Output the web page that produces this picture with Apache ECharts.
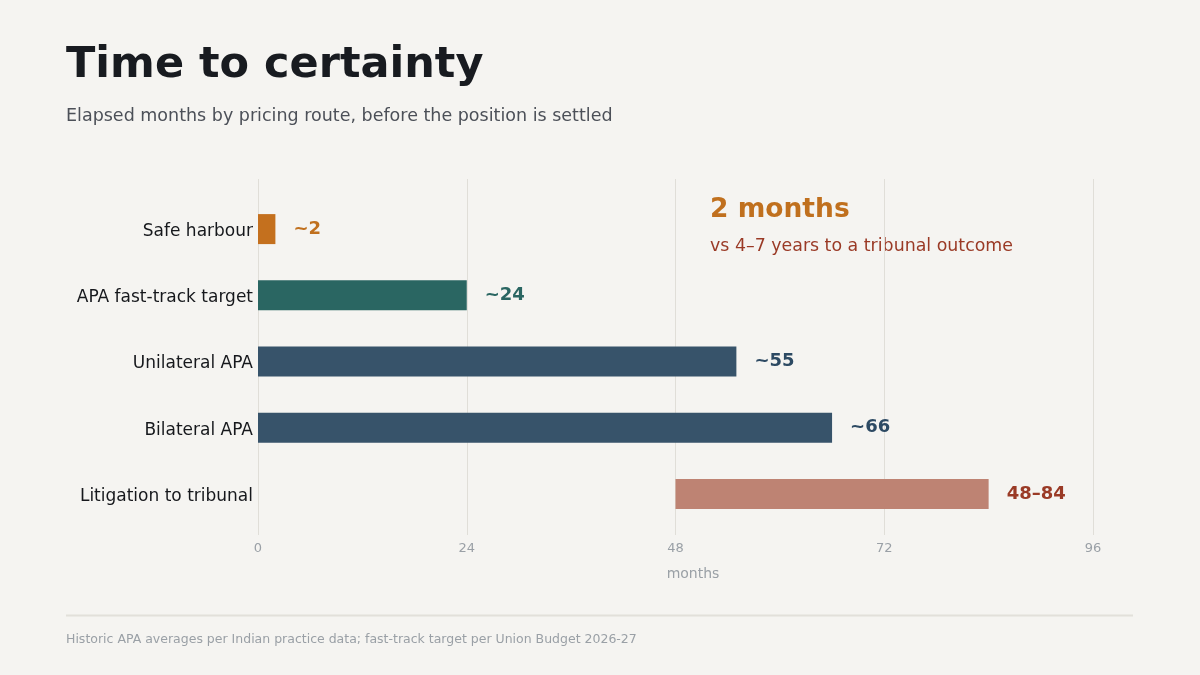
<!DOCTYPE html>
<html lang="en">
<head>
    <meta charset="UTF-8">
    <title>Time to certainty</title>
    <script src="https://cdn.jsdelivr.net/npm/echarts@6/dist/echarts.min.js"></script>
    <style>
        html, body { margin: 0; padding: 0; background: #f5f4f1; }
        #chart { width: 1200px; height: 675px; }
    </style>
</head>
<body>
<div id="chart"></div>
<script>
    // data
    var routes = ['Safe harbour', 'APA fast-track target', 'Unilateral APA', 'Bilateral APA', 'Litigation to tribunal'];
    var starts = [0, 0, 0, 0, 48];
    var ends = [2, 24, 55, 66, 84];
    var valueLabels = ['~2', '~24', '~55', '~66', '48\u201384'];
    var barColors = ['#c4701e', '#2a6662', '#37536a', '#37536a', '#be8373'];
    var labelColors = ['#c0701e', '#2a6662', '#2d4a63', '#2d4a63', '#9a3a26'];
    var xTicks = [0, 24, 48, 72, 96];

    var font = "'DejaVu Sans'";
    var chart = echarts.init(document.getElementById('chart'));

    var baseData = starts.map(function (s) { return s; });
    var lenData = ends.map(function (e, i) {
        return {
            value: e - starts[i],
            itemStyle: { color: barColors[i] },
            label: { formatter: valueLabels[i], color: labelColors[i] }
        };
    });

    var option = {
        backgroundColor: '#f5f4f1',
        animation: false,
        textStyle: { fontFamily: font },
        graphic: [
            { type: 'text', left: 66, top: 44, style: { text: 'Time to certainty', font: 'bold 43px "DejaVu Sans"', fill: '#181b20' } },
            { type: 'text', left: 66, top: 107, style: { text: 'Elapsed months by pricing route, before the position is settled', font: '17.5px "DejaVu Sans"', fill: '#4c5058' } },
            { type: 'text', left: 710, top: 197, style: { text: '2 months', font: 'bold 26.5px "DejaVu Sans"', fill: '#c0701e' } },
            { type: 'text', left: 710, top: 238, style: { text: 'vs 4\u20137 years to a tribunal outcome', font: '17.4px "DejaVu Sans"', fill: '#9a3a26' } },
            { type: 'text', x: 693, y: 574, style: { text: 'months', font: '14px "DejaVu Sans"', fill: '#9aa0a6', align: 'center', verticalAlign: 'middle' } },
            { type: 'line', shape: { x1: 66, y1: 615.5, x2: 1133, y2: 615.5 }, style: { stroke: '#e2e0da', lineWidth: 2 } },
            { type: 'text', left: 66, top: 633, style: { text: 'Historic APA averages per Indian practice data; fast-track target per Union Budget 2026-27', font: '12.5px "DejaVu Sans"', fill: '#9aa0a6' } }
        ],
        grid: [
            { left: 258, right: 107, top: 179, bottom: 140 },
            { left: 258, right: 107, top: 196, bottom: 148 }
        ],
        xAxis: [
            {
                gridIndex: 0, type: 'value', min: 0, max: 96, interval: 24,
                axisLine: { show: false }, axisTick: { show: false },
                axisLabel: {
                    color: '#9aa0a6', fontSize: 13, fontFamily: font, margin: 7,
                    formatter: function (v) { return xTicks.indexOf(v) >= 0 ? String(v) : ''; }
                },
                splitLine: { lineStyle: { color: '#e0ded8', width: 1 } }
            },
            {
                gridIndex: 1, type: 'value', min: 0, max: 96, show: false,
                splitLine: { show: false }
            }
        ],
        yAxis: [
            { gridIndex: 0, type: 'value', show: false },
            {
                gridIndex: 1, type: 'category', data: routes, inverse: true,
                axisLine: { show: false }, axisTick: { show: false },
                axisLabel: { color: '#16181c', fontSize: 17, fontFamily: font, margin: 5, lineHeight: 21, verticalAlign: 'top', padding: [-8, 0, 0, 0] },
                splitLine: { show: false }
            }
        ],
        series: [
            {
                type: 'bar', xAxisIndex: 1, yAxisIndex: 1, stack: 'r',
                data: baseData, barWidth: 30,
                itemStyle: { color: 'transparent' },
                silent: true
            },
            {
                type: 'bar', xAxisIndex: 1, yAxisIndex: 1, stack: 'r',
                data: lenData, barWidth: 30,
                label: {
                    show: true, position: 'right', distance: 18,
                    fontSize: 18, fontWeight: 'bold', fontFamily: font
                }
            }
        ]
    };

    chart.setOption(option);
</script>
</body>
</html>
